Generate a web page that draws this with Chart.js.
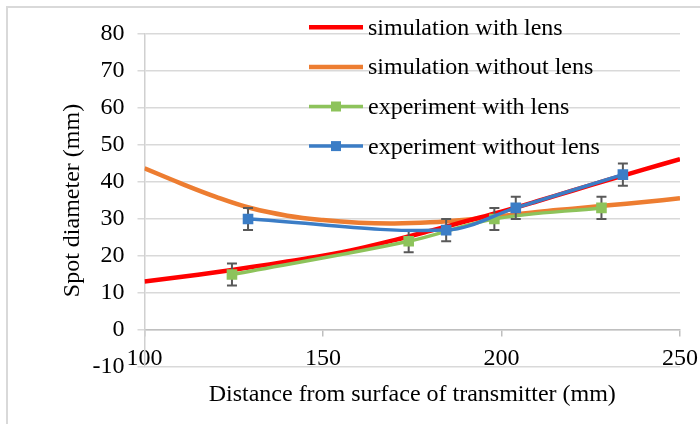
<!DOCTYPE html>
<html>
<head>
<meta charset="utf-8">
<script src="https://cdn.jsdelivr.net/npm/chart.js@4/dist/chart.umd.min.js"></script>
<style>
html,body{margin:0;padding:0;background:#ffffff;}
canvas{display:block;}
</style>
</head>
<body>
<canvas id="c" width="700" height="424"></canvas>
<script>
// ---- data ----
const seriesNames = ['simulation with lens', 'simulation without lens', 'experiment with lens', 'experiment without lens'];
const simX = [100, 110, 120, 130, 140, 150, 160, 170, 180, 190, 200, 210, 220, 230, 240, 250];
const simWithLens = [13.1, 14.3, 15.6, 17.0, 18.5, 20.1, 22.0, 24.3, 26.8, 29.4, 32.0, 34.8, 37.7, 40.6, 43.4, 46.2];
const simWithoutLens = [43.7, 39.7, 36.0, 32.9, 30.9, 29.7, 29.0, 28.8, 29.1, 29.8, 30.8, 31.9, 32.8, 33.7, 34.6, 35.6];
const expWithLensX = [124.5, 174, 198, 228];
const expWithLensY = [15, 24, 30, 33];
const expWithLensErr = [3, 3, 3, 3];
const expWithoutLensX = [129, 184.5, 204, 234];
const expWithoutLensY = [30, 27, 33, 42];
const expWithoutLensErr = [3, 3, 3, 3];
const xTicks = [100, 150, 200, 250];
const yTicks = [-10, 0, 10, 20, 30, 40, 50, 60, 70, 80];
const xTitle = 'Distance from surface of transmitter (mm)';
const yTitle = 'Spot diameter (mm)';

const pts = (xs, ys) => xs.map((x, i) => ({x: x, y: ys[i]}));

const FONT = '"Liberation Serif", "Times New Roman", serif';
Chart.defaults.font.family = FONT;
Chart.defaults.font.size = 24;
Chart.defaults.color = '#000000';

const frame = {
  id: 'frame',
  beforeDraw(chart) {
    const ctx = chart.ctx;
    ctx.save();
    ctx.fillStyle = '#ffffff';
    ctx.fillRect(0, 0, chart.width, chart.height);
    ctx.strokeStyle = '#d9d9d9';
    ctx.lineWidth = 2;
    ctx.strokeRect(7, 7, 900, 900);
    ctx.restore();
  }
};

const errorBars = {
  id: 'errorBars',
  beforeDatasetDraw(chart, args) {
    const ds = chart.data.datasets[args.index];
    if (!ds.errors) return;
    const ctx = chart.ctx, xs = chart.scales.x, ys = chart.scales.y;
    ctx.save();
    ctx.strokeStyle = '#595959';
    ctx.lineWidth = 2;
    ds.data.forEach((p, i) => {
      const e = ds.errors[i];
      const px = xs.getPixelForValue(p.x);
      const t = ys.getPixelForValue(p.y + e);
      const b = ys.getPixelForValue(p.y - e);
      ctx.beginPath();
      ctx.moveTo(px, t); ctx.lineTo(px, b);
      ctx.moveTo(px - 5, t); ctx.lineTo(px + 5, t);
      ctx.moveTo(px - 5, b); ctx.lineTo(px + 5, b);
      ctx.stroke();
    });
    ctx.restore();
  }
};

const insideLegend = {
  id: 'insideLegend',
  afterDraw(chart, args, opts) {
    const ctx = chart.ctx;
    ctx.save();
    ctx.font = '24px ' + FONT;
    ctx.textBaseline = 'alphabetic';
    ctx.textAlign = 'left';
    chart.data.datasets.forEach((ds, i) => {
      const y = opts.top + i * opts.rowGap;
      ctx.strokeStyle = ds.borderColor;
      ctx.lineWidth = ds.borderWidth;
      ctx.beginPath();
      ctx.moveTo(opts.x, y);
      ctx.lineTo(opts.x + opts.lineLen, y);
      ctx.stroke();
      if (ds.pointRadius > 0) {
        ctx.fillStyle = ds.backgroundColor;
        ctx.fillRect(opts.x + opts.lineLen / 2 - 5, y - 5, 10, 10);
      }
      ctx.fillStyle = '#000000';
      ctx.fillText(ds.label, opts.x + opts.lineLen + opts.gap, y + 7.5);
    });
    ctx.restore();
  }
};

new Chart(document.getElementById('c'), {
  type: 'line',
  data: {
    datasets: [
      {
        label: seriesNames[0],
        data: pts(simX, simWithLens),
        borderColor: '#ff0000', backgroundColor: '#ff0000',
        borderWidth: 4.5, pointRadius: 0, tension: 0.4, order: 3
      },
      {
        label: seriesNames[1],
        data: pts(simX, simWithoutLens),
        borderColor: '#ed7d31', backgroundColor: '#ed7d31',
        borderWidth: 4.5, pointRadius: 0, tension: 0.4, order: 4
      },
      {
        label: seriesNames[2],
        data: pts(expWithLensX, expWithLensY),
        errors: expWithLensErr,
        borderColor: '#8dc35b', backgroundColor: '#8dc35b',
        borderWidth: 3.5, pointRadius: 7.5, pointStyle: 'rect', pointBorderWidth: 0,
        tension: 0.35, order: 2
      },
      {
        label: seriesNames[3],
        data: pts(expWithoutLensX, expWithoutLensY),
        errors: expWithoutLensErr,
        borderColor: '#3b7dc6', backgroundColor: '#3b7dc6',
        borderWidth: 3.5, pointRadius: 7.5, pointStyle: 'rect', pointBorderWidth: 0,
        tension: 0.35, order: 1
      }
    ]
  },
  options: {
    responsive: false,
    animation: false,
    devicePixelRatio: 1,
    layout: { padding: { top: 34, right: 20, bottom: 57, left: 0 } },
    plugins: {
      legend: { display: false },
      tooltip: { enabled: false },
      insideLegend: { x: 309, lineLen: 54, gap: 5, top: 27.3, rowGap: 39.6 }
    },
    scales: {
      x: {
        type: 'linear',
        min: 100, max: 250,
        position: { y: 0 },
        afterBuildTicks: s => { s.ticks = xTicks.map(v => ({ value: v })); },
        afterFit: s => { s.height = 57; s.paddingLeft = 0; s.paddingRight = 0; s.paddingTop = 0; s.paddingBottom = 0; },
        grid: { drawOnChartArea: false, drawTicks: true, tickLength: 6, color: '#bfbfbf', lineWidth: 1.5 },
        border: { display: true, color: '#bfbfbf', width: 1.5 },
        ticks: { padding: 8, maxRotation: 0, font: { size: 24 }, color: '#000000' },
        title: { display: true, text: xTitle, font: { size: 24 }, color: '#000000', padding: { top: 0, bottom: -22.4 } }
      },
      y: {
        type: 'linear',
        min: -10, max: 80,
        position: 'left',
        afterBuildTicks: s => { s.ticks = yTicks.map(v => ({ value: v })); },
        afterFit: s => { s.width = 144.5; s.paddingTop = 0; s.paddingBottom = 0; },
        grid: { color: '#d9d9d9', lineWidth: 1.5, tickLength: 7 },
        border: { display: true, color: '#d0d0d0', width: 1.5 },
        ticks: { padding: 13, font: { size: 24 }, color: '#000000' },
        title: { display: true, text: yTitle, font: { size: 24 }, color: '#000000', padding: { top: 58, bottom: 0 } }
      }
    }
  },
  plugins: [frame, errorBars, insideLegend]
});
</script>
</body>
</html>
